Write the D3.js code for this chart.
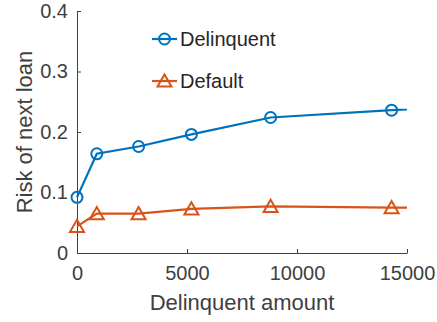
<!DOCTYPE html>
<html>
<head>
<meta charset="utf-8">
<script src="https://cdn.jsdelivr.net/npm/d3@7"></script>
<style>
  html, body { margin: 0; padding: 0; background: #fff; }
  svg { display: block; font-family: "Liberation Sans", Arial, Helvetica, sans-serif; }
</style>
</head>
<body>
<svg id="chart" width="437" height="322"></svg>
<script>
// Delinquent amount bins and the risk of the next loan for each outcome
const amounts = [0, 900, 2800, 5200, 8800, 14300, 20000];
const delinquentRisk = [0.092, 0.164, 0.176, 0.196, 0.224, 0.236, 0.246];
const defaultRisk = [0.044, 0.065, 0.065, 0.073, 0.077, 0.075, 0.074];
const xTicks = [0, 5000, 10000, 15000];
const yTicks = [0, 0.1, 0.2, 0.3, 0.4];
const seriesNames = ["Delinquent", "Default"];

const svg = d3.select("#chart");
const plotLeft = 77, plotRight = 407, plotTop = 11, plotBottom = 253;

const x = d3.scaleLinear().domain([0, 15000]).range([plotLeft, plotRight]);
const y = d3.scaleLinear().domain([0, 0.4]).range([plotBottom, plotTop]);

const axisColor = "#404040";
const fontFamily = "Liberation Sans, Arial, sans-serif";

// clip the series at the right edge of the axes (markers on the left edge stay whole)
svg.append("defs").append("clipPath").attr("id", "plotclip")
  .append("rect").attr("x", plotLeft - 10).attr("y", plotTop - 8)
  .attr("width", plotRight - plotLeft + 10).attr("height", plotBottom - plotTop + 16);

// axes with inward ticks
const xAxis = svg.append("g").attr("transform", `translate(0,${plotBottom})`)
  .call(d3.axisBottom(x).tickValues(xTicks).tickSizeInner(-4).tickSizeOuter(0).tickPadding(13)
    .tickFormat(d3.format("d")));
const yAxis = svg.append("g").attr("transform", `translate(${plotLeft},0)`)
  .call(d3.axisLeft(y).tickValues(yTicks).tickSizeInner(-4).tickSizeOuter(0).tickPadding(9)
    .tickFormat(d => d === 0 ? "0" : d3.format(".1f")(d)));

[xAxis, yAxis].forEach(g => {
  g.attr("font-size", 20).attr("font-family", fontFamily);
  g.select(".domain").attr("stroke", axisColor).attr("stroke-width", 1);
  g.selectAll(".tick line").attr("stroke", axisColor).attr("stroke-width", 1);
  g.selectAll(".tick text").attr("fill", axisColor);
});

// axis titles
svg.append("text").attr("x", (plotLeft + plotRight) / 2).attr("y", 310)
  .attr("text-anchor", "middle").attr("font-size", 22).attr("fill", axisColor)
  .text("Delinquent amount");
svg.append("text").attr("transform", `translate(32,${(plotTop + plotBottom) / 2}) rotate(-90)`)
  .attr("text-anchor", "middle").attr("font-size", 22).attr("fill", axisColor)
  .text("Risk of next loan");

const blue = "#0072BD", red = "#D95319";
const tri = d3.symbol().type(d3.symbolTriangle).size(85);

const line = d3.line().x(d => x(d[0])).y(d => y(d[1]));
const plot = svg.append("g").attr("clip-path", "url(#plotclip)");

const series = [
  { name: seriesNames[0], values: delinquentRisk, color: blue, marker: "circle" },
  { name: seriesNames[1], values: defaultRisk, color: red, marker: "triangle" }
];

function drawMarker(g, s, cx, cy) {
  if (s.marker === "circle") {
    g.append("circle").attr("cx", cx).attr("cy", cy).attr("r", 5.5)
      .attr("fill", "none").attr("stroke", s.color).attr("stroke-width", 2);
  } else {
    g.append("path").attr("d", tri).attr("transform", `translate(${cx},${cy + 1.5})`)
      .attr("fill", "none").attr("stroke", s.color).attr("stroke-width", 2);
  }
}

series.forEach(s => {
  const pts = amounts.map((a, i) => [a, s.values[i]]);
  plot.append("path").datum(pts).attr("d", line)
    .attr("fill", "none").attr("stroke", s.color).attr("stroke-width", 2.2);
  pts.filter(p => p[0] <= 15000).forEach(p => drawMarker(plot, s, x(p[0]), y(p[1])));
});

// legend
const legend = svg.append("g");
series.forEach((s, i) => {
  const ly = 39 + i * 42;
  legend.append("line").attr("x1", 152).attr("x2", 177).attr("y1", ly).attr("y2", ly)
    .attr("stroke", s.color).attr("stroke-width", 2.2);
  drawMarker(legend, s, 164.5, ly);
  legend.append("text").attr("x", 180).attr("y", ly).attr("dy", "0.36em")
    .attr("font-size", 20).attr("fill", "#262626").text(s.name);
});
</script>
</body>
</html>
